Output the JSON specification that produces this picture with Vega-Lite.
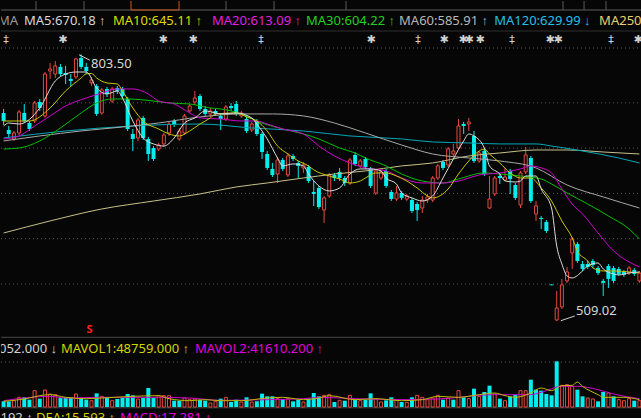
{
"$schema":"https://vega.github.io/schema/vega-lite/v6.json",
"background":"#060606",
"padding":0,
"spacing":0,
"bounds":"flush",
"config":{"view":{"stroke":null},"text":{"font":"Noto Sans"}},
"datasets":{
"candles":[
{"i":0,"o":738.8,"h":743.2,"l":725.5,"c":729.9,"vol":28300,"vd":"d"},
{"i":1,"o":720.0,"h":724.4,"l":711.2,"c":715.6,"vol":28300,"vd":"d"},
{"i":2,"o":710.1,"h":718.9,"l":707.9,"c":716.7,"vol":31700,"vd":"u"},
{"i":3,"o":716.7,"h":742.1,"l":714.5,"c":739.9,"vol":48300,"vd":"u"},
{"i":4,"o":738.8,"h":748.7,"l":727.7,"c":729.9,"vol":48300,"vd":"d"},
{"i":5,"o":727.7,"h":729.9,"l":718.9,"c":721.1,"vol":36700,"vd":"d"},
{"i":6,"o":729.9,"h":752.0,"l":727.7,"c":749.8,"vol":81700,"vd":"u"},
{"i":7,"o":750.9,"h":754.2,"l":741.0,"c":744.3,"vol":41700,"vd":"d"},
{"i":8,"o":735.5,"h":784.0,"l":733.3,"c":781.8,"vol":85000,"vd":"u"},
{"i":9,"o":785.1,"h":794.0,"l":776.3,"c":787.3,"vol":65000,"vd":"u"},
{"i":10,"o":781.8,"h":796.2,"l":777.4,"c":790.7,"vol":61700,"vd":"u"},
{"i":11,"o":789.6,"h":792.9,"l":779.6,"c":781.8,"vol":45000,"vd":"d"},
{"i":12,"o":782.9,"h":790.7,"l":770.8,"c":780.7,"vol":48300,"vd":"d"},
{"i":13,"o":776.3,"h":781.8,"l":768.6,"c":774.1,"vol":48300,"vd":"d"},
{"i":14,"o":778.5,"h":799.5,"l":776.3,"c":798.4,"vol":65000,"vd":"u"},
{"i":15,"o":799.5,"h":803.5,"l":787.3,"c":789.6,"vol":41700,"vd":"d"},
{"i":16,"o":789.6,"h":794.0,"l":781.8,"c":785.1,"vol":36700,"vd":"d"},
{"i":17,"o":772.0,"h":778.5,"l":768.6,"c":775.2,"vol":31700,"vd":"u"},
{"i":18,"o":768.6,"h":770.8,"l":735.5,"c":737.7,"vol":68300,"vd":"d"},
{"i":19,"o":738.8,"h":766.4,"l":736.6,"c":764.2,"vol":53300,"vd":"u"},
{"i":20,"o":765.3,"h":767.5,"l":756.4,"c":759.7,"vol":45000,"vd":"d"},
{"i":21,"o":752.0,"h":767.5,"l":749.8,"c":765.3,"vol":31700,"vd":"u"},
{"i":22,"o":766.4,"h":768.6,"l":759.7,"c":763.1,"vol":40000,"vd":"d"},
{"i":23,"o":765.3,"h":767.5,"l":754.2,"c":757.5,"vol":45000,"vd":"d"},
{"i":24,"o":754.2,"h":756.4,"l":718.9,"c":721.1,"vol":65000,"vd":"d"},
{"i":25,"o":715.6,"h":721.1,"l":696.8,"c":710.1,"vol":58300,"vd":"d"},
{"i":26,"o":711.2,"h":733.3,"l":707.9,"c":731.0,"vol":40000,"vd":"u"},
{"i":27,"o":733.3,"h":735.5,"l":709.0,"c":711.2,"vol":45000,"vd":"d"},
{"i":28,"o":710.1,"h":712.3,"l":685.8,"c":693.5,"vol":95000,"vd":"d"},
{"i":29,"o":700.1,"h":702.3,"l":685.8,"c":688.0,"vol":45000,"vd":"d"},
{"i":30,"o":699.0,"h":705.7,"l":696.8,"c":703.4,"vol":56700,"vd":"u"},
{"i":31,"o":704.6,"h":716.7,"l":701.2,"c":714.5,"vol":56700,"vd":"u"},
{"i":32,"o":716.7,"h":728.8,"l":713.4,"c":726.6,"vol":56700,"vd":"u"},
{"i":33,"o":729.9,"h":732.1,"l":723.3,"c":726.6,"vol":31700,"vd":"d"},
{"i":34,"o":710.1,"h":722.2,"l":707.9,"c":718.9,"vol":31700,"vd":"d"},
{"i":35,"o":716.7,"h":737.7,"l":714.5,"c":735.5,"vol":45000,"vd":"u"},
{"i":36,"o":741.0,"h":748.7,"l":738.8,"c":746.5,"vol":36700,"vd":"u"},
{"i":37,"o":750.9,"h":763.1,"l":747.6,"c":755.3,"vol":40000,"vd":"u"},
{"i":38,"o":757.5,"h":759.7,"l":741.0,"c":743.2,"vol":36700,"vd":"d"},
{"i":39,"o":743.2,"h":746.5,"l":735.5,"c":737.7,"vol":31700,"vd":"d"},
{"i":40,"o":737.7,"h":744.3,"l":734.4,"c":741.0,"vol":20000,"vd":"u"},
{"i":41,"o":741.0,"h":743.2,"l":735.5,"c":737.7,"vol":28300,"vd":"u"},
{"i":42,"o":735.5,"h":738.8,"l":720.0,"c":732.1,"vol":41700,"vd":"d"},
{"i":43,"o":732.1,"h":747.6,"l":729.9,"c":745.4,"vol":48300,"vd":"u"},
{"i":44,"o":746.5,"h":749.8,"l":741.0,"c":744.3,"vol":25000,"vd":"d"},
{"i":45,"o":748.7,"h":752.0,"l":735.5,"c":737.7,"vol":36700,"vd":"d"},
{"i":46,"o":735.5,"h":741.0,"l":733.3,"c":738.8,"vol":25000,"vd":"u"},
{"i":47,"o":732.1,"h":735.5,"l":716.7,"c":718.9,"vol":48300,"vd":"d"},
{"i":48,"o":720.0,"h":728.8,"l":717.8,"c":726.6,"vol":25000,"vd":"u"},
{"i":49,"o":729.9,"h":732.1,"l":713.4,"c":715.6,"vol":28300,"vd":"d"},
{"i":50,"o":715.6,"h":717.8,"l":688.0,"c":695.7,"vol":66700,"vd":"d"},
{"i":51,"o":693.5,"h":696.8,"l":675.9,"c":678.1,"vol":53300,"vd":"d"},
{"i":52,"o":677.0,"h":683.6,"l":668.1,"c":670.3,"vol":53300,"vd":"d"},
{"i":53,"o":671.4,"h":690.2,"l":661.5,"c":686.9,"vol":41700,"vd":"u"},
{"i":54,"o":686.9,"h":689.1,"l":674.8,"c":677.0,"vol":40000,"vd":"d"},
{"i":55,"o":670.3,"h":694.6,"l":668.1,"c":691.3,"vol":41700,"vd":"u"},
{"i":56,"o":691.3,"h":693.5,"l":685.8,"c":688.0,"vol":28300,"vd":"d"},
{"i":57,"o":683.6,"h":685.8,"l":667.0,"c":680.3,"vol":36700,"vd":"d"},
{"i":58,"o":678.1,"h":684.7,"l":672.6,"c":681.4,"vol":25000,"vd":"u"},
{"i":59,"o":679.2,"h":681.4,"l":661.5,"c":663.7,"vol":41700,"vd":"d"},
{"i":60,"o":651.6,"h":663.7,"l":636.1,"c":649.4,"vol":70000,"vd":"d"},
{"i":61,"o":656.0,"h":658.2,"l":632.8,"c":635.0,"vol":53300,"vd":"d"},
{"i":62,"o":631.7,"h":647.2,"l":617.4,"c":645.0,"vol":58300,"vd":"u"},
{"i":63,"o":647.2,"h":672.6,"l":645.0,"c":670.3,"vol":61700,"vd":"u"},
{"i":64,"o":670.3,"h":672.6,"l":663.7,"c":667.0,"vol":25000,"vd":"d"},
{"i":65,"o":673.7,"h":678.1,"l":663.7,"c":667.0,"vol":33300,"vd":"u"},
{"i":66,"o":667.0,"h":669.2,"l":658.2,"c":661.5,"vol":31700,"vd":"d"},
{"i":67,"o":661.5,"h":689.1,"l":659.3,"c":686.9,"vol":58300,"vd":"u"},
{"i":68,"o":692.4,"h":695.7,"l":680.3,"c":682.5,"vol":35000,"vd":"d"},
{"i":69,"o":680.3,"h":688.0,"l":678.1,"c":685.8,"vol":31700,"vd":"u"},
{"i":70,"o":688.0,"h":690.2,"l":677.0,"c":679.2,"vol":36700,"vd":"d"},
{"i":71,"o":677.0,"h":679.2,"l":656.0,"c":658.2,"vol":68300,"vd":"d"},
{"i":72,"o":650.5,"h":677.0,"l":648.3,"c":674.8,"vol":40000,"vd":"u"},
{"i":73,"o":667.0,"h":675.9,"l":664.8,"c":673.7,"vol":25000,"vd":"u"},
{"i":74,"o":674.8,"h":677.0,"l":656.0,"c":658.2,"vol":33300,"vd":"d"},
{"i":75,"o":651.6,"h":653.8,"l":641.6,"c":643.8,"vol":48300,"vd":"d"},
{"i":76,"o":643.8,"h":658.2,"l":641.6,"c":650.5,"vol":36700,"vd":"u"},
{"i":77,"o":650.5,"h":652.7,"l":642.7,"c":645.0,"vol":25000,"vd":"d"},
{"i":78,"o":643.8,"h":649.4,"l":641.6,"c":647.2,"vol":23300,"vd":"u"},
{"i":79,"o":642.7,"h":645.0,"l":628.4,"c":630.6,"vol":48300,"vd":"d"},
{"i":80,"o":638.3,"h":640.5,"l":619.6,"c":631.7,"vol":58300,"vd":"u"},
{"i":81,"o":633.9,"h":647.2,"l":628.4,"c":642.7,"vol":48300,"vd":"u"},
{"i":82,"o":642.7,"h":649.4,"l":639.4,"c":646.1,"vol":36700,"vd":"u"},
{"i":83,"o":642.7,"h":669.2,"l":640.5,"c":667.0,"vol":45000,"vd":"u"},
{"i":84,"o":667.0,"h":682.5,"l":664.8,"c":680.3,"vol":58300,"vd":"u"},
{"i":85,"o":684.7,"h":686.9,"l":675.9,"c":678.1,"vol":36700,"vd":"d"},
{"i":86,"o":681.4,"h":701.2,"l":679.2,"c":699.0,"vol":45000,"vd":"u"},
{"i":87,"o":693.5,"h":704.6,"l":691.3,"c":696.8,"vol":36700,"vd":"d"},
{"i":88,"o":700.1,"h":732.1,"l":697.9,"c":724.4,"vol":81700,"vd":"u"},
{"i":89,"o":726.6,"h":728.8,"l":715.6,"c":724.4,"vol":48300,"vd":"d"},
{"i":90,"o":726.6,"h":733.3,"l":718.9,"c":728.8,"vol":41700,"vd":"u"},
{"i":91,"o":713.4,"h":718.9,"l":683.6,"c":685.8,"vol":91700,"vd":"d"},
{"i":92,"o":685.8,"h":696.8,"l":683.6,"c":694.6,"vol":53300,"vd":"u"},
{"i":93,"o":696.8,"h":699.0,"l":669.2,"c":671.4,"vol":75000,"vd":"d"},
{"i":94,"o":633.9,"h":669.2,"l":632.8,"c":643.8,"vol":106700,"vd":"d"},
{"i":95,"o":649.4,"h":669.2,"l":647.2,"c":667.0,"vol":65000,"vd":"u"},
{"i":96,"o":669.2,"h":672.6,"l":660.4,"c":667.0,"vol":41700,"vd":"d"},
{"i":97,"o":664.8,"h":678.1,"l":663.7,"c":668.1,"vol":31700,"vd":"u"},
{"i":98,"o":674.8,"h":677.0,"l":649.4,"c":665.9,"vol":53300,"vd":"d"},
{"i":99,"o":659.3,"h":661.5,"l":642.7,"c":645.0,"vol":61700,"vd":"d"},
{"i":100,"o":637.2,"h":674.8,"l":633.9,"c":672.6,"vol":81700,"vd":"u"},
{"i":101,"o":673.7,"h":701.2,"l":671.4,"c":692.4,"vol":81700,"vd":"u"},
{"i":102,"o":689.1,"h":691.3,"l":639.4,"c":641.6,"vol":136700,"vd":"d"},
{"i":103,"o":627.3,"h":641.6,"l":619.6,"c":636.1,"vol":86700,"vd":"d"},
{"i":104,"o":622.9,"h":625.1,"l":610.7,"c":621.8,"vol":81700,"vd":"d"},
{"i":105,"o":618.5,"h":620.7,"l":606.3,"c":608.5,"vol":65000,"vd":"d"},
{"i":106,"o":549.5,"h":549.5,"l":548.6,"c":548.6,"vol":58300,"vd":"d"},
{"i":107,"o":510.3,"h":542.3,"l":509.02,"c":523.5,"vol":228300,"vd":"d"},
{"i":108,"o":524.7,"h":555.6,"l":522.4,"c":549.0,"vol":108300,"vd":"u"},
{"i":109,"o":553.4,"h":568.8,"l":551.2,"c":563.3,"vol":111700,"vd":"u"},
{"i":110,"o":584.3,"h":601.9,"l":566.6,"c":599.7,"vol":103300,"vd":"u"},
{"i":111,"o":594.2,"h":596.4,"l":573.2,"c":575.4,"vol":86700,"vd":"d"},
{"i":112,"o":572.1,"h":575.4,"l":564.4,"c":566.6,"vol":53300,"vd":"d"},
{"i":113,"o":572.1,"h":575.4,"l":566.6,"c":568.8,"vol":45000,"vd":"u"},
{"i":114,"o":575.4,"h":577.6,"l":567.7,"c":571.0,"vol":40000,"vd":"u"},
{"i":115,"o":567.7,"h":569.9,"l":560.0,"c":562.2,"vol":28300,"vd":"d"},
{"i":116,"o":553.4,"h":555.6,"l":536.8,"c":551.2,"vol":75000,"vd":"d"},
{"i":117,"o":569.9,"h":572.1,"l":545.6,"c":555.6,"vol":70000,"vd":"u"},
{"i":118,"o":567.7,"h":569.9,"l":551.2,"c":553.4,"vol":53300,"vd":"d"},
{"i":119,"o":566.6,"h":568.8,"l":558.9,"c":561.1,"vol":36700,"vd":"u"},
{"i":120,"o":563.3,"h":565.5,"l":557.8,"c":560.0,"vol":31700,"vd":"u"},
{"i":121,"o":562.2,"h":569.9,"l":560.0,"c":567.7,"vol":41700,"vd":"u"},
{"i":122,"o":565.5,"h":567.7,"l":558.9,"c":561.1,"vol":31700,"vd":"d"},
{"i":123,"o":553.4,"h":564.4,"l":551.2,"c":562.2,"vol":31700,"vd":"u"}
],
"ma":[
{"s":"MA250","i":0,"v":606.3},{"s":"MA250","i":9,"v":619.6},{"s":"MA250","i":19,"v":632.8},{"s":"MA250","i":29,"v":641.6},{"s":"MA250","i":38,"v":649.4},{"s":"MA250","i":45,"v":657.1},{"s":"MA250","i":51,"v":661.5},{"s":"MA250","i":58,"v":667.0},{"s":"MA250","i":64,"v":671.4},{"s":"MA250","i":70,"v":674.8},{"s":"MA250","i":77,"v":680.3},{"s":"MA250","i":83,"v":683.6},{"s":"MA250","i":90,"v":691.3},{"s":"MA250","i":96,"v":694.6},{"s":"MA250","i":103,"v":697.9},{"s":"MA250","i":109,"v":697.9},{"s":"MA250","i":116,"v":695.7},{"s":"MA250","i":123,"v":693.5},
{"s":"MA120","i":0,"v":711.2},{"s":"MA120","i":12,"v":718.9},{"s":"MA120","i":25,"v":724.4},{"s":"MA120","i":38,"v":726.6},{"s":"MA120","i":48,"v":722.2},{"s":"MA120","i":58,"v":718.9},{"s":"MA120","i":67,"v":713.4},{"s":"MA120","i":77,"v":710.1},{"s":"MA120","i":83,"v":706.8},{"s":"MA120","i":90,"v":705.7},{"s":"MA120","i":96,"v":704.6},{"s":"MA120","i":103,"v":704.6},{"s":"MA120","i":106,"v":702.3},{"s":"MA120","i":112,"v":696.8},{"s":"MA120","i":119,"v":689.1},{"s":"MA120","i":123,"v":683.6},
{"s":"MA60","i":0,"v":707.9},{"s":"MA60","i":7,"v":713.4},{"s":"MA60","i":15,"v":718.9},{"s":"MA60","i":23,"v":723.3},{"s":"MA60","i":30,"v":727.7},{"s":"MA60","i":38,"v":734.4},{"s":"MA60","i":46,"v":737.7},{"s":"MA60","i":52,"v":737.7},{"s":"MA60","i":58,"v":735.5},{"s":"MA60","i":64,"v":727.7},{"s":"MA60","i":70,"v":716.7},{"s":"MA60","i":77,"v":703.4},{"s":"MA60","i":83,"v":693.5},{"s":"MA60","i":90,"v":689.1},{"s":"MA60","i":96,"v":685.8},{"s":"MA60","i":103,"v":678.1},{"s":"MA60","i":109,"v":659.3},{"s":"MA60","i":116,"v":646.1},{"s":"MA60","i":123,"v":633.9},
{"s":"MA30","i":0,"v":699.0},{"s":"MA30","i":3,"v":700.1},{"s":"MA30","i":7,"v":707.9},{"s":"MA30","i":11,"v":722.2},{"s":"MA30","i":15,"v":738.8},{"s":"MA30","i":18,"v":749.8},{"s":"MA30","i":21,"v":754.2},{"s":"MA30","i":24,"v":754.2},{"s":"MA30","i":29,"v":752.0},{"s":"MA30","i":32,"v":749.8},{"s":"MA30","i":36,"v":748.7},{"s":"MA30","i":40,"v":744.3},{"s":"MA30","i":42,"v":743.2},{"s":"MA30","i":46,"v":737.7},{"s":"MA30","i":50,"v":727.7},{"s":"MA30","i":54,"v":721.1},{"s":"MA30","i":58,"v":715.6},{"s":"MA30","i":61,"v":710.1},{"s":"MA30","i":65,"v":700.1},{"s":"MA30","i":68,"v":694.6},{"s":"MA30","i":70,"v":689.1},{"s":"MA30","i":74,"v":680.3},{"s":"MA30","i":77,"v":671.4},{"s":"MA30","i":81,"v":663.7},{"s":"MA30","i":85,"v":661.5},{"s":"MA30","i":88,"v":665.9},{"s":"MA30","i":93,"v":672.6},{"s":"MA30","i":96,"v":671.4},{"s":"MA30","i":100,"v":669.2},{"s":"MA30","i":104,"v":665.9},{"s":"MA30","i":106,"v":660.4},{"s":"MA30","i":109,"v":650.5},{"s":"MA30","i":113,"v":638.3},{"s":"MA30","i":117,"v":625.1},{"s":"MA30","i":121,"v":610.7},{"s":"MA30","i":123,"v":599.7},
{"s":"MA20","i":0,"v":710.1},{"s":"MA20","i":3,"v":713.4},{"s":"MA20","i":6,"v":724.4},{"s":"MA20","i":9,"v":735.5},{"s":"MA20","i":12,"v":746.5},{"s":"MA20","i":16,"v":755.3},{"s":"MA20","i":19,"v":760.8},{"s":"MA20","i":22,"v":765.3},{"s":"MA20","i":25,"v":765.3},{"s":"MA20","i":28,"v":759.7},{"s":"MA20","i":30,"v":752.0},{"s":"MA20","i":33,"v":748.7},{"s":"MA20","i":36,"v":738.8},{"s":"MA20","i":38,"v":733.3},{"s":"MA20","i":42,"v":732.1},{"s":"MA20","i":46,"v":729.9},{"s":"MA20","i":49,"v":729.9},{"s":"MA20","i":51,"v":726.6},{"s":"MA20","i":54,"v":721.1},{"s":"MA20","i":58,"v":715.6},{"s":"MA20","i":61,"v":702.3},{"s":"MA20","i":64,"v":691.3},{"s":"MA20","i":67,"v":683.6},{"s":"MA20","i":70,"v":678.1},{"s":"MA20","i":74,"v":674.8},{"s":"MA20","i":77,"v":667.0},{"s":"MA20","i":81,"v":661.5},{"s":"MA20","i":85,"v":661.5},{"s":"MA20","i":88,"v":663.7},{"s":"MA20","i":92,"v":670.3},{"s":"MA20","i":96,"v":672.6},{"s":"MA20","i":100,"v":677.0},{"s":"MA20","i":102,"v":680.3},{"s":"MA20","i":104,"v":678.1},{"s":"MA20","i":106,"v":672.6},{"s":"MA20","i":108,"v":654.9},{"s":"MA20","i":110,"v":638.3},{"s":"MA20","i":112,"v":627.3},{"s":"MA20","i":115,"v":606.3},{"s":"MA20","i":118,"v":586.5},{"s":"MA20","i":121,"v":574.3},{"s":"MA20","i":123,"v":568.8},
{"s":"MA10","i":0,"v":729.9},{"s":"MA10","i":5,"v":729.9},{"s":"MA10","i":9,"v":744.3},{"s":"MA10","i":12,"v":763.1},{"s":"MA10","i":15,"v":777.4},{"s":"MA10","i":16,"v":782.0},{"s":"MA10","i":17,"v":782.4},{"s":"MA10","i":18,"v":777.4},{"s":"MA10","i":20,"v":771.9},{"s":"MA10","i":22,"v":770.8},{"s":"MA10","i":23,"v":763.1},{"s":"MA10","i":25,"v":744.3},{"s":"MA10","i":27,"v":729.9},{"s":"MA10","i":30,"v":721.1},{"s":"MA10","i":32,"v":715.6},{"s":"MA10","i":34,"v":713.4},{"s":"MA10","i":36,"v":718.9},{"s":"MA10","i":38,"v":726.6},{"s":"MA10","i":40,"v":733.3},{"s":"MA10","i":41,"v":737.7},{"s":"MA10","i":45,"v":738.8},{"s":"MA10","i":47,"v":734.4},{"s":"MA10","i":49,"v":729.9},{"s":"MA10","i":51,"v":718.9},{"s":"MA10","i":53,"v":702.3},{"s":"MA10","i":55,"v":693.5},{"s":"MA10","i":57,"v":685.8},{"s":"MA10","i":59,"v":680.3},{"s":"MA10","i":60,"v":676.0},{"s":"MA10","i":63,"v":669.2},{"s":"MA10","i":65,"v":665.9},{"s":"MA10","i":67,"v":661.5},{"s":"MA10","i":69,"v":663.7},{"s":"MA10","i":70,"v":667.0},{"s":"MA10","i":72,"v":672.6},{"s":"MA10","i":74,"v":672.6},{"s":"MA10","i":76,"v":669.2},{"s":"MA10","i":78,"v":663.7},{"s":"MA10","i":80,"v":656.0},{"s":"MA10","i":82,"v":647.2},{"s":"MA10","i":83,"v":645.0},{"s":"MA10","i":86,"v":654.9},{"s":"MA10","i":88,"v":671.4},{"s":"MA10","i":90,"v":685.8},{"s":"MA10","i":92,"v":696.8},{"s":"MA10","i":93,"v":699.0},{"s":"MA10","i":94,"v":693.5},{"s":"MA10","i":96,"v":683.6},{"s":"MA10","i":98,"v":672.6},{"s":"MA10","i":100,"v":667.0},{"s":"MA10","i":102,"v":667.0},{"s":"MA10","i":104,"v":656.0},{"s":"MA10","i":106,"v":641.6},{"s":"MA10","i":108,"v":619.6},{"s":"MA10","i":110,"v":600.8},{"s":"MA10","i":111,"v":586.5},{"s":"MA10","i":113,"v":575.4},{"s":"MA10","i":114,"v":567.7},{"s":"MA10","i":116,"v":564.4},{"s":"MA10","i":118,"v":564.4},{"s":"MA10","i":121,"v":563.3},{"s":"MA10","i":123,"v":562.2},
{"s":"MA5","i":0,"v":724.4},{"s":"MA5","i":1,"v":727.7},{"s":"MA5","i":3,"v":726.6},{"s":"MA5","i":7,"v":744.3},{"s":"MA5","i":10,"v":774.1},{"s":"MA5","i":12,"v":781.8},{"s":"MA5","i":14,"v":784.0},{"s":"MA5","i":16,"v":784.0},{"s":"MA5","i":18,"v":766.4},{"s":"MA5","i":20,"v":759.7},{"s":"MA5","i":22,"v":763.1},{"s":"MA5","i":23,"v":755.3},{"s":"MA5","i":25,"v":729.9},{"s":"MA5","i":27,"v":711.2},{"s":"MA5","i":29,"v":704.6},{"s":"MA5","i":31,"v":702.3},{"s":"MA5","i":33,"v":711.2},{"s":"MA5","i":35,"v":727.7},{"s":"MA5","i":37,"v":733.3},{"s":"MA5","i":39,"v":741.0},{"s":"MA5","i":41,"v":738.8},{"s":"MA5","i":42,"v":737.7},{"s":"MA5","i":45,"v":738.8},{"s":"MA5","i":48,"v":733.3},{"s":"MA5","i":49,"v":726.6},{"s":"MA5","i":51,"v":710.1},{"s":"MA5","i":53,"v":689.1},{"s":"MA5","i":54,"v":680.3},{"s":"MA5","i":56,"v":682.5},{"s":"MA5","i":58,"v":680.3},{"s":"MA5","i":59,"v":671.4},{"s":"MA5","i":61,"v":658.2},{"s":"MA5","i":63,"v":652.7},{"s":"MA5","i":65,"v":656.0},{"s":"MA5","i":67,"v":671.4},{"s":"MA5","i":69,"v":677.0},{"s":"MA5","i":71,"v":677.0},{"s":"MA5","i":73,"v":674.8},{"s":"MA5","i":74,"v":667.0},{"s":"MA5","i":76,"v":660.4},{"s":"MA5","i":77,"v":650.5},{"s":"MA5","i":79,"v":645.0},{"s":"MA5","i":81,"v":641.6},{"s":"MA5","i":83,"v":647.2},{"s":"MA5","i":85,"v":667.0},{"s":"MA5","i":87,"v":688.0},{"s":"MA5","i":89,"v":707.9},{"s":"MA5","i":90,"v":715.6},{"s":"MA5","i":91,"v":713.4},{"s":"MA5","i":93,"v":700.1},{"s":"MA5","i":94,"v":680.3},{"s":"MA5","i":96,"v":671.4},{"s":"MA5","i":97,"v":663.7},{"s":"MA5","i":99,"v":662.6},{"s":"MA5","i":100,"v":663.7},{"s":"MA5","i":101,"v":669.2},{"s":"MA5","i":103,"v":669.2},{"s":"MA5","i":104,"v":654.9},{"s":"MA5","i":106,"v":633.9},{"s":"MA5","i":107,"v":592.0},{"s":"MA5","i":108,"v":572.1},{"s":"MA5","i":109,"v":558.9},{"s":"MA5","i":110,"v":556.7},{"s":"MA5","i":112,"v":564.4},{"s":"MA5","i":113,"v":569.9},{"s":"MA5","i":115,"v":573.2},{"s":"MA5","i":116,"v":566.6},{"s":"MA5","i":118,"v":561.1},{"s":"MA5","i":119,"v":560.0},{"s":"MA5","i":121,"v":562.2},{"s":"MA5","i":123,"v":563.3}
],
"mavol":[
{"s":"MAVOL2","i":0,"v":31700},{"s":"MAVOL2","i":9,"v":53300},{"s":"MAVOL2","i":12,"v":45000},{"s":"MAVOL2","i":19,"v":48300},{"s":"MAVOL2","i":30,"v":48300},{"s":"MAVOL2","i":36,"v":45000},{"s":"MAVOL2","i":42,"v":33300},{"s":"MAVOL2","i":51,"v":36700},{"s":"MAVOL2","i":58,"v":41700},{"s":"MAVOL2","i":61,"v":48300},{"s":"MAVOL2","i":68,"v":41700},{"s":"MAVOL2","i":77,"v":36700},{"s":"MAVOL2","i":84,"v":40000},{"s":"MAVOL2","i":88,"v":48300},{"s":"MAVOL2","i":92,"v":58300},{"s":"MAVOL2","i":95,"v":61700},{"s":"MAVOL2","i":99,"v":61700},{"s":"MAVOL2","i":102,"v":61700},{"s":"MAVOL2","i":104,"v":73300},{"s":"MAVOL2","i":108,"v":103300},{"s":"MAVOL2","i":111,"v":103300},{"s":"MAVOL2","i":115,"v":86700},{"s":"MAVOL2","i":118,"v":65000},{"s":"MAVOL2","i":123,"v":41700},
{"s":"MAVOL1","i":0,"v":28300},{"s":"MAVOL1","i":5,"v":45000},{"s":"MAVOL1","i":7,"v":56700},{"s":"MAVOL1","i":9,"v":61700},{"s":"MAVOL1","i":12,"v":48300},{"s":"MAVOL1","i":16,"v":41700},{"s":"MAVOL1","i":19,"v":45000},{"s":"MAVOL1","i":25,"v":53300},{"s":"MAVOL1","i":30,"v":56700},{"s":"MAVOL1","i":32,"v":41700},{"s":"MAVOL1","i":36,"v":31700},{"s":"MAVOL1","i":39,"v":36700},{"s":"MAVOL1","i":42,"v":31700},{"s":"MAVOL1","i":46,"v":31700},{"s":"MAVOL1","i":51,"v":45000},{"s":"MAVOL1","i":54,"v":48300},{"s":"MAVOL1","i":58,"v":36700},{"s":"MAVOL1","i":61,"v":45000},{"s":"MAVOL1","i":63,"v":56700},{"s":"MAVOL1","i":68,"v":36700},{"s":"MAVOL1","i":72,"v":41700},{"s":"MAVOL1","i":77,"v":31700},{"s":"MAVOL1","i":81,"v":36700},{"s":"MAVOL1","i":84,"v":53300},{"s":"MAVOL1","i":88,"v":48300},{"s":"MAVOL1","i":92,"v":61700},{"s":"MAVOL1","i":95,"v":70000},{"s":"MAVOL1","i":97,"v":56700},{"s":"MAVOL1","i":99,"v":48300},{"s":"MAVOL1","i":102,"v":70000},{"s":"MAVOL1","i":104,"v":95000},{"s":"MAVOL1","i":106,"v":81700},{"s":"MAVOL1","i":108,"v":106700},{"s":"MAVOL1","i":110,"v":108300},{"s":"MAVOL1","i":111,"v":125000},{"s":"MAVOL1","i":112,"v":103300},{"s":"MAVOL1","i":115,"v":61700},{"s":"MAVOL1","i":116,"v":48300},{"s":"MAVOL1","i":120,"v":48300},{"s":"MAVOL1","i":123,"v":36700}
],
"deco":[
{"i":-0.5,"i2":123.5,"yy":9,"yy2":9,"k":"g1"},
{"i":-0.5,"i2":123.5,"yy":30,"yy2":30,"k":"g2"},
{"i":6.27,"i2":6.27,"yy":0,"yy2":9,"k":"g1"},
{"i":15.56,"i2":15.56,"yy":0,"yy2":9,"k":"g1"},
{"i":43.03,"i2":43.03,"yy":0,"yy2":9,"k":"g1"},
{"i":52.32,"i2":52.32,"yy":0,"yy2":9,"k":"g1"},
{"i":66.24,"i2":66.24,"yy":0,"yy2":9,"k":"g1"},
{"i":108.22,"i2":108.22,"yy":0,"yy2":9,"k":"g1"},
{"i":112.29,"i2":112.29,"yy":0,"yy2":9,"k":"g1"},
{"i":116.54,"i2":116.54,"yy":0,"yy2":9,"k":"g1"},
{"i":24.65,"i2":24.65,"yy":0,"yy2":9,"k":"o"},
{"i":33.94,"i2":33.94,"yy":0,"yy2":9,"k":"o"},
{"i":24.65,"i2":33.94,"yy":9,"yy2":9,"k":"o"}
],
"hdr":[
{"t":"MA","k":"MA","i":-1.08,"yy":20},
{"t":"MA5:670.18 ↑","k":"MA5","i":3.95,"yy":20},
{"t":"MA10:645.11 ↑","k":"MA10","i":21.17,"yy":20},
{"t":"MA20:613.09 ↑","k":"MA20","i":40.32,"yy":20},
{"t":"MA30:604.22 ↑","k":"MA30","i":58.5,"yy":20},
{"t":"MA60:585.91 ↑","k":"MA60","i":76.5,"yy":20},
{"t":"MA120:629.99 ↓","k":"MA120","i":94.9,"yy":20},
{"t":"MA250:","k":"MA250","i":115.2,"yy":20}
],
"stars":[
{"t":"‡","i":0.47,"yy":38.5},{"t":"✱","i":11.49,"yy":38.5},{"t":"✱","i":30.84,"yy":38.5},{"t":"✱","i":36.64,"yy":38.5},{"t":"‡","i":49.8,"yy":38.5},{"t":"✱","i":71.08,"yy":38.5},{"t":"‡","i":80.17,"yy":38.5},{"t":"✱","i":85.2,"yy":38.5},{"t":"✱","i":88.88,"yy":38.5},{"t":"✱","i":90.04,"yy":38.5},{"t":"✱","i":92.17,"yy":38.5},{"t":"‡","i":98.36,"yy":38.5},{"t":"✱","i":105.7,"yy":38.5},{"t":"✱","i":107.26,"yy":38.5},{"t":"‡","i":117.5,"yy":38.5},{"t":"✱","i":122.73,"yy":38.5}
],
"grid":[{"p":550},{"p":600},{"p":650},{"p":700},{"p":750},{"p":810.5}],
"leaders":[{"i":14.6,"i2":16.7,"p":803.0,"p2":797.0},{"i":107.8,"i2":110.5,"p":509.5,"p2":514.7}],
"labels":[{"t":"803.50","i":16.9,"p":793.2},{"t":"509.02","i":110.74,"p":520.2}],
"flags":[{"t":"S","i":16.62,"p":499.3}],
"vsolid":[{"v":348500},{"v":-4000}],
"vdot":[{"v":225000}],
"vtext":[
{"t":"052.000 ↓","k":"w","i":-0.89,"vy":290000},
{"t":"MAVOL1:48759.000 ↑","k":"y","i":11.11,"vy":290000},
{"t":"MAVOL2:41610.200 ↑","k":"m","i":37.03,"vy":290000},
{"t":"192 ↑","k":"w","i":-0.6,"vy":-55000},
{"t":"DEA:15.593 ↑","k":"y","i":6.27,"vy":-55000},
{"t":"MACD:17.281 ↑","k":"m","i":22.52,"vy":-55000}
]
},
"vconcat":[
{
"width":641,"height":44,
"resolve":{"scale":{"color":"independent"}},
"layer":[
{"data":{"name":"deco"},"mark":{"type":"rule","strokeWidth":1},
"encoding":{
"x":{"field":"i","type":"quantitative","scale":{"domain":[-0.5,123.5],"nice":false,"zero":false,"padding":0},"axis":null},
"x2":{"field":"i2"},
"y":{"field":"yy","type":"quantitative","scale":{"domain":[0,44],"reverse":true,"nice":false,"zero":false},"axis":null},
"y2":{"field":"yy2"},
"color":{"field":"k","type":"nominal","scale":{"domain":["g1","g2","o"],"range":["#5a5a5a","#2e2e2e","#c8581e"]},"legend":null}}},
{"data":{"name":"hdr"},"mark":{"type":"text","align":"left","baseline":"middle","fontSize":13,"clip":true},
"encoding":{
"x":{"field":"i","type":"quantitative"},
"y":{"field":"yy","type":"quantitative"},
"text":{"field":"t"},
"color":{"field":"k","type":"nominal","scale":{"domain":["MA","MA5","MA10","MA20","MA30","MA60","MA120","MA250"],"range":["#9a9a9a","#d8d8d8","#dcdc00","#e020e0","#20d020","#b8b8b8","#20c0e8","#e8d070"]},"legend":null}}},
{"data":{"name":"stars"},"mark":{"type":"text","align":"center","baseline":"middle","fontSize":11,"color":"#d0d0d0","font":"DejaVu Sans"},
"encoding":{
"x":{"field":"i","type":"quantitative"},
"y":{"field":"yy","type":"quantitative"},
"text":{"field":"t"}}}
]
},
{
"width":641,"height":292,
"layer":[
{"data":{"name":"grid"},"mark":{"type":"rule","strokeDash":[1,3],"color":"#5a5a5a","strokeWidth":1},
"encoding":{"y":{"field":"p","type":"quantitative","scale":{"domain":[491.5,813.8],"nice":false,"zero":false,"padding":0},"axis":null}}},
{"data":{"name":"candles"},"mark":{"type":"rule","strokeWidth":1},
"encoding":{
"x":{"field":"i","type":"quantitative","scale":{"domain":[-0.5,123.5],"nice":false,"zero":false,"padding":0},"axis":null},
"y":{"field":"l","type":"quantitative"},
"y2":{"field":"h"},
"color":{"condition":{"test":"datum.c > datum.o","value":"#e8483f"},"value":"#00eeee"}}},
{"data":{"name":"candles"},"transform":[{"filter":"datum.c <= datum.o"}],"mark":{"type":"bar","size":4,"color":"#00eeee"},
"encoding":{"x":{"field":"i","type":"quantitative"},"y":{"field":"o","type":"quantitative"},"y2":{"field":"c"}}},
{"data":{"name":"candles"},"transform":[{"filter":"datum.c > datum.o"}],"mark":{"type":"bar","size":3,"fill":"#060606","stroke":"#e8483f","strokeWidth":1},
"encoding":{"x":{"field":"i","type":"quantitative"},"y":{"field":"o","type":"quantitative"},"y2":{"field":"c"}}},
{"data":{"name":"ma"},"mark":{"type":"line","strokeWidth":1,"interpolate":"monotone"},
"encoding":{"x":{"field":"i","type":"quantitative"},"y":{"field":"v","type":"quantitative"},
"color":{"field":"s","type":"nominal","scale":{"domain":["MA250","MA120","MA60","MA30","MA20","MA10","MA5"],"range":["#c8c088","#00a8b8","#a8a8a8","#00c000","#d000d0","#c8c800","#dcdcdc"]},"legend":null}}},
{"data":{"name":"leaders"},"mark":{"type":"rule","color":"#d0d0d0","strokeWidth":1},
"encoding":{"x":{"field":"i","type":"quantitative"},"x2":{"field":"i2"},"y":{"field":"p","type":"quantitative"},"y2":{"field":"p2"}}},
{"data":{"name":"labels"},"mark":{"type":"text","align":"left","baseline":"middle","fontSize":13,"color":"#d8d8d8"},
"encoding":{"x":{"field":"i","type":"quantitative"},"y":{"field":"p","type":"quantitative"},"text":{"field":"t"}}},
{"data":{"name":"flags"},"mark":{"type":"text","align":"center","baseline":"middle","fontSize":11,"fontWeight":"bold","color":"#ff2020"},
"encoding":{"x":{"field":"i","type":"quantitative"},"y":{"field":"p","type":"quantitative"},"text":{"field":"t"}}}
]
},
{
"width":641,"height":82,
"resolve":{"scale":{"color":"independent"}},
"layer":[
{"data":{"name":"vsolid"},"mark":{"type":"rule","color":"#4a4a4a","strokeWidth":1},
"encoding":{"y":{"field":"v","type":"quantitative","scale":{"domain":[-60000,350000],"nice":false,"zero":false,"padding":0},"axis":null}}},
{"data":{"name":"vdot"},"mark":{"type":"rule","color":"#5a5a5a","strokeWidth":1,"strokeDash":[1,3]},
"encoding":{"y":{"field":"v","type":"quantitative"}}},
{"data":{"name":"candles"},"transform":[{"filter":"datum.vd == 'd'"}],"mark":{"type":"bar","size":4,"color":"#00eeee"},
"encoding":{"x":{"field":"i","type":"quantitative","scale":{"domain":[-0.5,123.5],"nice":false,"zero":false,"padding":0},"axis":null},"y":{"field":"vol","type":"quantitative"},"y2":{"datum":0}}},
{"data":{"name":"candles"},"transform":[{"filter":"datum.vd == 'u'"}],"mark":{"type":"bar","size":3,"fill":"#060606","stroke":"#e8483f","strokeWidth":1},
"encoding":{"x":{"field":"i","type":"quantitative"},"y":{"field":"vol","type":"quantitative"},"y2":{"datum":0}}},
{"data":{"name":"mavol"},"mark":{"type":"line","strokeWidth":1,"interpolate":"monotone"},
"encoding":{"x":{"field":"i","type":"quantitative"},"y":{"field":"v","type":"quantitative"},
"color":{"field":"s","type":"nominal","scale":{"domain":["MAVOL2","MAVOL1"],"range":["#d000d0","#bcbc00"]},"legend":null}}},
{"data":{"name":"vtext"},"mark":{"type":"text","align":"left","baseline":"middle","fontSize":13,"clip":true},
"encoding":{"x":{"field":"i","type":"quantitative"},"y":{"field":"vy","type":"quantitative"},"text":{"field":"t"},
"color":{"field":"k","type":"nominal","scale":{"domain":["w","y","m"],"range":["#d0d0d0","#d4d400","#e000e0"]},"legend":null}}}
]
}
]
}
